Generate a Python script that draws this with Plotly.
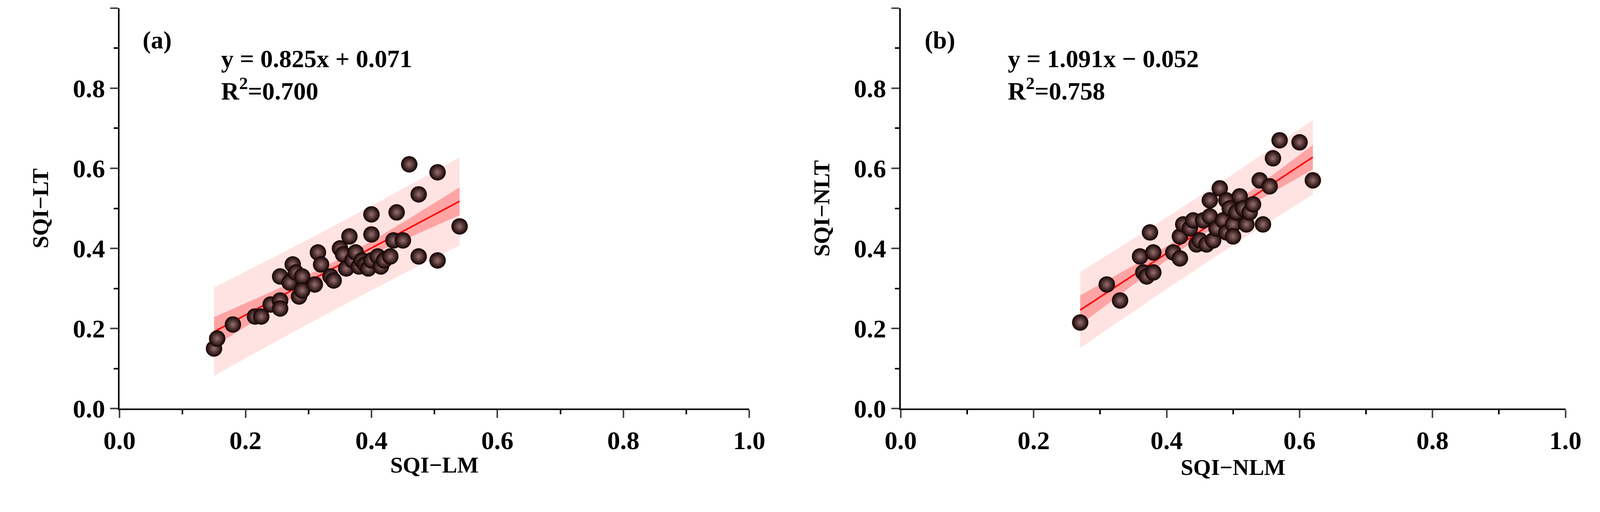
import numpy as np
import plotly.graph_objects as go

ax_x = [0.15,0.155,0.18,0.215,0.225,0.24,0.255,0.255,0.255,0.27,0.275,0.28,0.285,0.29,0.29,0.31,0.315,0.32,0.335,0.34,0.35,0.355,0.36,0.365,0.37,0.375,0.38,0.385,0.39,0.395,0.40,0.40,0.40,0.41,0.415,0.42,0.43,0.435,0.44,0.45,0.46,0.475,0.475,0.505,0.505,0.54]
ax_y = [0.15,0.175,0.21,0.23,0.23,0.26,0.27,0.25,0.33,0.315,0.36,0.34,0.28,0.33,0.295,0.31,0.39,0.36,0.33,0.32,0.40,0.385,0.35,0.43,0.37,0.39,0.355,0.37,0.36,0.35,0.485,0.435,0.37,0.38,0.355,0.37,0.38,0.42,0.49,0.42,0.61,0.535,0.38,0.59,0.37,0.455]
bx_x = [0.27,0.31,0.33,0.36,0.365,0.37,0.375,0.38,0.38,0.41,0.42,0.42,0.425,0.435,0.44,0.445,0.45,0.455,0.46,0.465,0.465,0.47,0.475,0.48,0.485,0.49,0.49,0.495,0.50,0.50,0.505,0.51,0.515,0.52,0.525,0.53,0.54,0.545,0.555,0.56,0.57,0.60,0.62]
bx_y = [0.215,0.31,0.27,0.38,0.34,0.33,0.44,0.39,0.34,0.39,0.375,0.43,0.46,0.45,0.47,0.41,0.42,0.47,0.41,0.52,0.48,0.42,0.45,0.55,0.47,0.44,0.52,0.50,0.46,0.43,0.49,0.53,0.50,0.46,0.49,0.51,0.57,0.46,0.555,0.625,0.67,0.665,0.57]
eq_texts = ["y = 0.825x + 0.071<br>R<sup>2</sup>=0.700", "y = 1.091x − 0.052<br>R<sup>2</sup>=0.758"]
panel_labels = ["(a)", "(b)"]
x_titles = ["SQI−LM", "SQI−NLM"]
y_titles = ["SQI−LT", "SQI−NLT"]
ticks = [0.0, 0.2, 0.4, 0.6, 0.8, 1.0]

FONT = "Liberation Serif"
fig = go.Figure()

def bands(x, y):
    x = np.array(x); y = np.array(y); n = len(x)
    b, a = np.polyfit(x, y, 1)
    xs = np.linspace(x.min(), x.max(), 100)
    yh = a + b * xs
    s = np.sqrt(np.sum((y - (a + b * x)) ** 2) / (n - 2))
    sxx = np.sum((x - x.mean()) ** 2)
    t = 2.015
    ci = t * s * np.sqrt(1 / n + (xs - x.mean()) ** 2 / sxx)
    pi = t * s * np.sqrt(1 + 1 / n + (xs - x.mean()) ** 2 / sxx)
    return xs, yh, ci, pi

for i, (x, y) in enumerate([(ax_x, ax_y), (bx_x, bx_y)]):
    xa = "x" if i == 0 else "x2"; ya = "y" if i == 0 else "y2"
    xs, yh, ci, pi = bands(x, y)
    for w, col in [(pi, "rgba(255,0,0,0.11)"), (ci, "rgba(255,0,0,0.28)")]:
        fig.add_trace(go.Scatter(x=np.concatenate([xs, xs[::-1]]), y=np.concatenate([yh + w, (yh - w)[::-1]]),
                                 fill="toself", fillcolor=col, line=dict(width=0), mode="lines",
                                 xaxis=xa, yaxis=ya, showlegend=False, hoverinfo="skip"))
    fig.add_trace(go.Scatter(x=xs, y=yh, mode="lines", line=dict(color="red", width=4),
                             xaxis=xa, yaxis=ya, showlegend=False))
    fig.add_trace(go.Scatter(x=x, y=y, mode="markers", xaxis=xa, yaxis=ya, showlegend=False,
                             marker=dict(size=42, color="#120000", line=dict(width=0),
                                         gradient=dict(type="radial", color="#9a7070"))))

doms = [(0.063, 0.458), (0.553, 0.970)]
tf = dict(family=FONT, size=66, color="black", weight="bold")
common = dict(range=[0, 1], tickvals=ticks, ticktext=[f"{t:.1f}" for t in ticks], showgrid=False, zeroline=False,
              showline=True, linecolor="black", linewidth=4, ticks="outside", ticklen=20, tickwidth=4,
              tickfont=tf,
              minor=dict(dtick=0.1, ticks="outside", ticklen=11, tickwidth=4, tickcolor="black"))
lay = dict(width=4163, height=1311, paper_bgcolor="white", plot_bgcolor="white",
           margin=dict(l=0, r=0, t=0, b=0), font=dict(family=FONT, color="black"))
for i in range(2):
    sx = "" if i == 0 else "2"
    lay["xaxis" + sx] = dict(common, domain=list(doms[i]), anchor="y" + sx,
                             title=dict(text=f"<b>{x_titles[i]}</b>", font=dict(family=FONT, size=58), standoff=8))
    lay["yaxis" + sx] = dict(common, domain=[0.185, 0.99], anchor="x" + sx,
                             title=dict(text=f"<b>{y_titles[i]}</b>", font=dict(family=FONT, size=58), standoff=45))
fig.update_layout(**lay)

for i in range(2):
    sx = "" if i == 0 else "2"
    fig.add_annotation(xref="x" + sx + " domain", yref="y" + sx + " domain", x=0.035, y=0.92, xanchor="left", yanchor="middle",
                       text=f"<b>{panel_labels[i]}</b>", showarrow=False, font=dict(family=FONT, size=64))
    fig.add_annotation(xref="x" + sx + " domain", yref="y" + sx + " domain", x=0.16, y=0.91, xanchor="left", yanchor="top",
                       text=f"<b>{eq_texts[i]}</b>", align="left", showarrow=False, font=dict(family=FONT, size=64))

fig.write_html("out.html")
